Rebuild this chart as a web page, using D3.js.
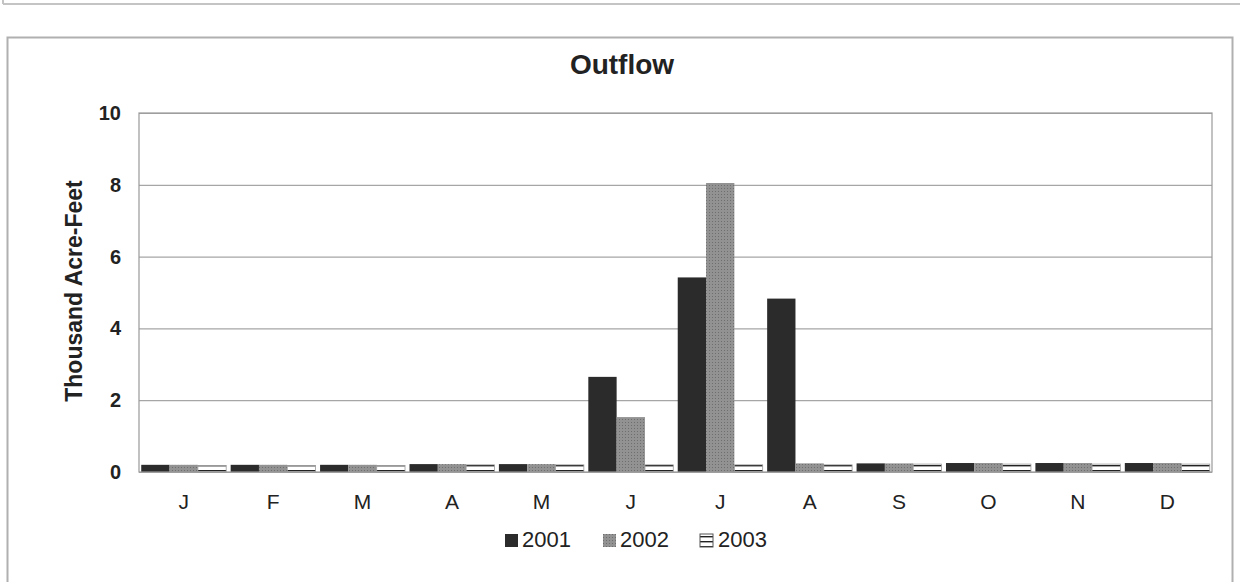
<!DOCTYPE html>
<html>
<head>
<meta charset="utf-8">
<script src="https://cdn.jsdelivr.net/npm/d3@7"></script>
<style>
  body { margin: 0; background: #fff; }
  text { font-family: "Liberation Sans", Arial, sans-serif; fill: #222; }
</style>
</head>
<body>
<div id="chart"></div>
<script>
var months = ["J", "F", "M", "A", "M", "J", "J", "A", "S", "O", "N", "D"];
var years = ["2001", "2002", "2003"];
var v2001 = [0.2, 0.2, 0.2, 0.22, 0.22, 2.65, 5.42, 4.83, 0.24, 0.25, 0.25, 0.25];
var v2002 = [0.2, 0.2, 0.2, 0.22, 0.22, 1.53, 8.05, 0.24, 0.24, 0.25, 0.25, 0.25];
var v2003 = [0.18, 0.18, 0.18, 0.2, 0.2, 0.2, 0.2, 0.2, 0.22, 0.22, 0.22, 0.22];
var yTicks = [0, 2, 4, 6, 8, 10];

var svgWidth = 1240, svgHeight = 582;
var margin = {top: 113, right: 28, bottom: 110, left: 139};
var width = svgWidth - margin.left - margin.right;
var height = svgHeight - margin.top - margin.bottom;

var svg = d3.select("#chart").append("svg")
  .attr("width", svgWidth)
  .attr("height", svgHeight);

// patterns for 2002 (dotted grey) and 2003 (horizontal lines)
var defs = svg.append("defs");
var p2 = defs.append("pattern").attr("id", "p2002")
  .attr("patternUnits", "userSpaceOnUse").attr("width", 3).attr("height", 3);
p2.append("rect").attr("width", 3).attr("height", 3).attr("fill", "#929292");
p2.append("rect").attr("width", 1).attr("height", 1).attr("fill", "#6e6e6e");
var p3 = defs.append("pattern").attr("id", "p2003")
  .attr("patternUnits", "userSpaceOnUse").attr("width", 4).attr("height", 5);
p3.append("rect").attr("width", 4).attr("height", 5).attr("fill", "#fff");
p3.append("rect").attr("y", 2).attr("width", 4).attr("height", 1.4).attr("fill", "#222");

// page frame lines
svg.append("line").attr("x1", 3).attr("x2", 1240).attr("y1", 4).attr("y2", 4)
  .attr("stroke", "#c4c4c4").attr("stroke-width", 2);
svg.append("line").attr("x1", 3).attr("x2", 3).attr("y1", 0).attr("y2", 4)
  .attr("stroke", "#c4c4c4").attr("stroke-width", 2);
svg.append("rect").attr("x", 7.5).attr("y", 37.5).attr("width", 1225).attr("height", 560)
  .attr("fill", "none").attr("stroke", "#b0b0b0").attr("stroke-width", 2);

var chartGroup = svg.append("g")
  .attr("transform", `translate(${margin.left}, ${margin.top})`);

var xScale = d3.scaleBand()
  .domain(d3.range(months.length))
  .range([0, width])
  .paddingInner(0.05)
  .paddingOuter(0.025);

var xSub = d3.scaleBand()
  .domain(years)
  .range([0, xScale.bandwidth()]);

var yScale = d3.scaleLinear()
  .domain([0, 10])
  .range([height, 0]);

// gridlines
chartGroup.append("g")
  .call(d3.axisLeft(yScale).tickValues(yTicks).tickSize(-width).tickFormat(""))
  .call(g => g.select(".domain").remove())
  .call(g => g.selectAll("line").attr("stroke", "#a6a6a6").attr("stroke-width", 1.2));

// y tick labels
chartGroup.append("g")
  .call(d3.axisLeft(yScale).tickValues(yTicks).tickSize(0).tickPadding(18))
  .call(g => g.select(".domain").remove())
  .call(g => g.selectAll("text").attr("font-size", "20px").attr("font-weight", "bold"));

var series = [
  {year: "2001", values: v2001, fill: "#2b2b2b"},
  {year: "2002", values: v2002, fill: "url(#p2002)"},
  {year: "2003", values: v2003, fill: "url(#p2003)"}
];

series.forEach(function(s) {
  chartGroup.selectAll(".bar" + s.year)
    .data(s.values)
    .enter()
    .append("rect")
    .attr("x", (d, i) => xScale(i) + xSub(s.year))
    .attr("y", d => yScale(d))
    .attr("width", xSub.bandwidth())
    .attr("height", d => height - yScale(d))
    .attr("fill", s.fill)
    .attr("stroke", s.year === "2003" ? "#999" : "none")
    .attr("stroke-width", 0.8);
});

// plot border
chartGroup.append("rect")
  .attr("width", width).attr("height", height)
  .attr("fill", "none").attr("stroke", "#999").attr("stroke-width", 1.2);

// x labels
chartGroup.append("g")
  .attr("transform", `translate(0, ${height})`)
  .call(d3.axisBottom(xScale).tickSize(0).tickPadding(22).tickFormat(i => months[i]))
  .call(g => g.select(".domain").remove())
  .call(g => g.selectAll("text").attr("font-size", "21px"));

// title
svg.append("text")
  .attr("x", 622).attr("y", 74)
  .attr("text-anchor", "middle")
  .attr("font-size", "28px").attr("font-weight", "bold")
  .text("Outflow");

// y axis title
svg.append("text")
  .attr("transform", "translate(82, 291) rotate(-90)")
  .attr("text-anchor", "middle")
  .attr("font-size", "23px").attr("font-weight", "bold")
  .text("Thousand Acre-Feet");

// legend
var legendX = [505, 603, 700];
var legend = svg.append("g").selectAll("g")
  .data(series)
  .enter()
  .append("g")
  .attr("transform", (d, i) => `translate(${legendX[i]}, 534)`);

legend.append("rect")
  .attr("width", 13).attr("height", 13)
  .attr("fill", d => d.fill)
  .attr("stroke", d => d.year === "2003" ? "#555" : "none");

legend.append("text")
  .attr("x", d => d.year === "2003" ? 18 : 17)
  .attr("y", 13)
  .attr("font-size", "22px")
  .text(d => d.year);
</script>
</body>
</html>
